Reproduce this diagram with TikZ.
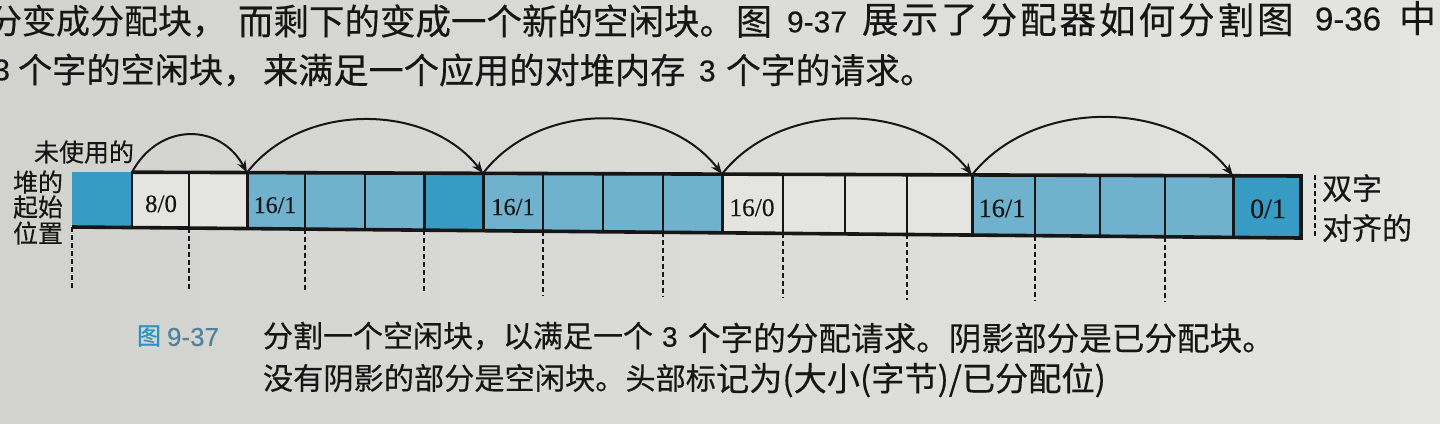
\documentclass[tikz,border=0pt]{standalone}
\usepackage{fontspec}
\setmainfont{Noto Sans CJK SC}[FakeBold=0.35]
\newfontfamily\lsans{Liberation Sans}[FakeBold=0.3]
\newfontfamily\lserif{Liberation Serif}[FakeBold=0.2]
\usetikzlibrary{arrows.meta,calc}
\definecolor{paperL}{RGB}{210,210,206}
\definecolor{paperR}{RGB}{228,228,224}
\definecolor{freec}{RGB}{228,228,224}
\definecolor{allocc}{RGB}{112,178,205}
\definecolor{darkc}{RGB}{55,155,196}
\definecolor{ink}{RGB}{22,22,22}
\definecolor{figblue}{RGB}{45,145,190}
\definecolor{fignum}{RGB}{80,130,160}
\newcommand\fsz[1]{\fontsize{#1}{#1}\selectfont}
\begin{document}
\begin{tikzpicture}[x=0.5pt,y=-0.5pt,
  txt/.style={inner sep=0pt,outer sep=0pt,anchor=west,text=ink},
  lbl/.style={inner sep=0pt,outer sep=0pt,anchor=base,text=ink},
  conn/.style={-{Stealth[length=6pt,width=4.5pt]},line width=1pt,draw=ink},
  outerline/.style={draw=ink,line width=1.8pt,line join=miter},
  thicksep/.style={draw=ink,line width=1.5pt},
  thinsep/.style={draw=ink,line width=0.9pt},
  dashline/.style={draw=ink,line width=0.9pt,dash pattern=on 2.5pt off 1.5pt}]
\useasboundingbox (0,0) rectangle (1440,423);
\clip (0,0) rectangle (1440,423);
\shade[left color=paperL,right color=paperR] (0,0) rectangle (1440,423);

% cell boundaries
\foreach \xx [count=\i from 0] in {72,132,189,247,305,365,424,483,543,603,663,722,783,845,907,972,1035,1100,1165,1233,1301}{
  \coordinate (t\i) at (\xx,{172+0.003255*(\xx-72)});
  \coordinate (b\i) at (\xx,{227+0.00895*(\xx-72)});
  \coordinate (d\i) at (\xx,{290+0.0114*(\xx-72)});
}
% fills
\foreach \i/\cl in {0/darkc,1/freec,2/freec,3/allocc,4/allocc,5/allocc,6/darkc,7/allocc,8/allocc,9/allocc,10/allocc,11/freec,12/freec,13/freec,14/freec,15/allocc,16/allocc,17/allocc,18/allocc,19/darkc}{
  \pgfmathtruncatemacro\j{\i+1}
  \fill[\cl] (t\i) -- (t\j) -- (b\j) -- (b\i) -- cycle;
}
% separators
\foreach \i in {1,2,4,5,8,9,10,12,13,14,16,17,18} \draw[thinsep] (t\i) -- (b\i);
\foreach \i in {3,6,7,11,15,19} \draw[thicksep] (t\i) -- (b\i);
\draw[outerline] (t1) -- (t20) -- (b20) -- (b0);

% dashed guides below
\foreach \i in {0,2,4,6,8,10,12,14,16,18} \draw[dashline] (b\i) -- (d\i);
\coordinate (ra) at (1315,175);
\coordinate (rb) at (1315,238);
\draw[dashline] (ra) -- (rb);

% arrows
\draw[conn] (t1) .. controls ($(t1)+(27,-50)$) and ($(t3)+(-27,-50)$) .. (t3);
\draw[conn] (t3) .. controls ($(t3)+(55,-71)$) and ($(t7)+(-55,-71)$) .. (t7);
\draw[conn] (t7) .. controls ($(t7)+(56,-73)$) and ($(t11)+(-56,-73)$) .. (t11);
\draw[conn] (t11) .. controls ($(t11)+(58,-74)$) and ($(t15)+(-58,-74)$) .. (t15);
\draw[conn] (t15) .. controls ($(t15)+(61,-77)$) and ($(t19)+(-61,-77)$) .. (t19);

% cell labels
\node[lbl,font=\lserif\fsz{12.5pt}] (l1) at (161,212) {8/0};
\node[lbl,font=\lserif\fsz{12pt}] (l2) at (275,213) {16/1};
\node[lbl,font=\lserif\fsz{12.2pt}] (l3) at (513,215) {16/1};
\node[lbl,font=\lserif\fsz{12.7pt}] (l4) at (752,216) {16/0};
\node[lbl,font=\lserif\fsz{13.2pt}] (l5) at (1002,217) {16/1};
\node[lbl,font=\lserif\fsz{14pt}] (l6) at (1268,218) {0/1};

% side labels
\node[txt,anchor=east,font=\fsz{12.5pt}] (u1) at (134,152) {未使用的};
\node[txt,font=\fsz{12.5pt}] (u2) at (13,182) {堆的};
\node[txt,font=\fsz{12.5pt}] (u3) at (13,207) {起始};
\node[txt,font=\fsz{12.5pt}] (u4) at (13,233) {位置};
\node[txt,font=\fsz{15pt}] (r1) at (1322,188) {双字};
\node[txt,font=\fsz{15pt}] (r2) at (1322,228) {对齐的};

% body text above
\node[txt,font=\fsz{17pt}] (p1) at (-12,21) {分变成分配块，};
\node[txt,font=\fsz{17.75pt}] (p2) at (238,21) {而剩下的变成一个新的空闲块。};
\node[txt,font=\fsz{18pt}] (p3) at (736,22) {图};
\node[txt,font=\lsans\fsz{15pt}] (p4) at (787,22) {9-37};
\foreach \ch [count=\k from 0] in {展,示,了,分,配,器,如,何,分,割,图}
  \node[txt,font=\fsz{18.3pt}] (p5-\k) at ({862+\k*39.5},20) {\ch};
\node[txt,font=\lsans\fsz{16.5pt}] (p6) at (1315,19) {9-36};
\node[txt,font=\fsz{18.5pt}] (p7) at (1399,18) {中};

\node[txt,anchor=east,font=\lsans\fsz{15pt}] (q0) at (10,70) {3};
\node[txt,font=\fsz{17.1pt}] (q1) at (18,70) {个字的空闲块，};
\node[txt,font=\fsz{17.6pt}] (q2) at (263,70) {来满足一个应用的对堆内存};
\node[txt,font=\lsans\fsz{15pt}] (q3) at (699,71) {3};
\node[txt,font=\fsz{17.4pt}] (q4) at (726,70) {个字的请求。};

% caption
\node[txt,font=\fsz{12pt},text=figblue] (c0) at (137,336) {图};
\node[txt,font=\lsans\fsz{13pt},text=fignum] (c1) at (167,337) {9-37};
\node[txt,font=\fsz{15pt}] (c2) at (263,336) {分割一个空闲块，以满足一个};
\node[txt,font=\lsans\fsz{14pt}] (c3) at (662,337) {3};
\node[txt,font=\fsz{16.3pt}] (c4) at (688,338) {个字的分配请求。阴影部分是已分配块。};
\node[txt,font=\fsz{15.1pt}] (c5) at (263,378) {没有阴影的部分是空闲块。头部标};
\node[txt,font=\fsz{16.6pt}] (c6) at (716,380) {记为(大小(字节)/已分配位)};
\end{tikzpicture}
\end{document}
